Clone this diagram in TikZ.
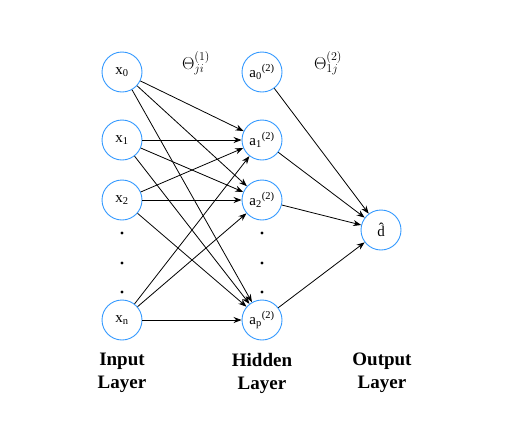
\documentclass[tikz,border=0pt]{standalone}
\usepackage{fontspec}
\setmainfont{Liberation Serif}
\usepackage{xcolor}
\usetikzlibrary{arrows.meta,positioning}
\definecolor{nodeblue}{RGB}{51,153,255}
\tikzstyle{arrow} = [line width=0.8pt,-{Stealth[length=8pt,width=6pt]}]

\begin{document}
\begin{tikzpicture}[x=1pt,y=-1pt,node distance=140pt]
    \tikzstyle{neuron} = [circle, draw=nodeblue, line width=0.9pt, fill=white,
        minimum size=40pt, inner sep=0pt, font=\fontsize{15}{18}\selectfont]
    \tikzstyle{layer} = [align=center, font=\fontsize{19}{23}\selectfont\bfseries]
    \tikzstyle{weight} = [font=\fontsize{17}{20}\selectfont]
    \useasboundingbox (0,0) rectangle (529,429);

    % Input layer
    \node [neuron] (x0) at (122,72) {x\textsubscript{0}};
    \node [neuron] (x1) at (122,140) {x\textsubscript{1}};
    \node [neuron] (x2) at (122,200) {x\textsubscript{2}};
    \node [neuron] (xn) at (122,320) {x\textsubscript{n}};

    % Hidden layer
    \node [neuron] (a0) [right of=x0] {a\textsubscript{0}\textsuperscript{(2)}};
    \node [neuron] (a1) [right of=x1] {a\textsubscript{1}\textsuperscript{(2)}};
    \node [neuron] (a2) [right of=x2] {a\textsubscript{2}\textsuperscript{(2)}};
    \node [neuron] (ap) [right of=xn] {a\textsubscript{p}\textsuperscript{(2)}};

    % Output layer
    \node [neuron] (out) at (381,230) {\^{d}};

    % Dots
    \fill (122,233) circle (1.6) (122,263) circle (1.6) (122,292) circle (1.6);
    \fill (262,233) circle (1.6) (262,263) circle (1.6) (262,292) circle (1.6);

    % Weights
    \node [weight] (theta1) at (196,63) {$\Theta^{(1)}_{ji}$};
    \node [weight] (theta2) at (328,63) {$\Theta^{(2)}_{1j}$};

    % Arrows
    \draw[arrow] (x0) -- (a1);
    \draw[arrow] (x0) -- (a2);
    \draw[arrow] (x0) -- (ap);
    \draw[arrow] (x1) -- (a1);
    \draw[arrow] (x1) -- (a2);
    \draw[arrow] (x1) -- (ap);
    \draw[arrow] (x2) -- (a1);
    \draw[arrow] (x2) -- (a2);
    \draw[arrow] (x2) -- (ap);
    \draw[arrow] (xn) -- (a1);
    \draw[arrow] (xn) -- (a2);
    \draw[arrow] (xn) -- (ap);
    \draw[arrow] (a0) -- (out);
    \draw[arrow] (a1) -- (out);
    \draw[arrow] (a2) -- (out);
    \draw[arrow] (ap) -- (out);

    % Layer names
    \node [layer] (input) at (122,373) {Input\\Layer};
    \node [layer] (hidden) at (262,373) {Hidden\\Layer};
    \node [layer] (output) at (382,373) {Output\\Layer};
\end{tikzpicture}
\end{document}
